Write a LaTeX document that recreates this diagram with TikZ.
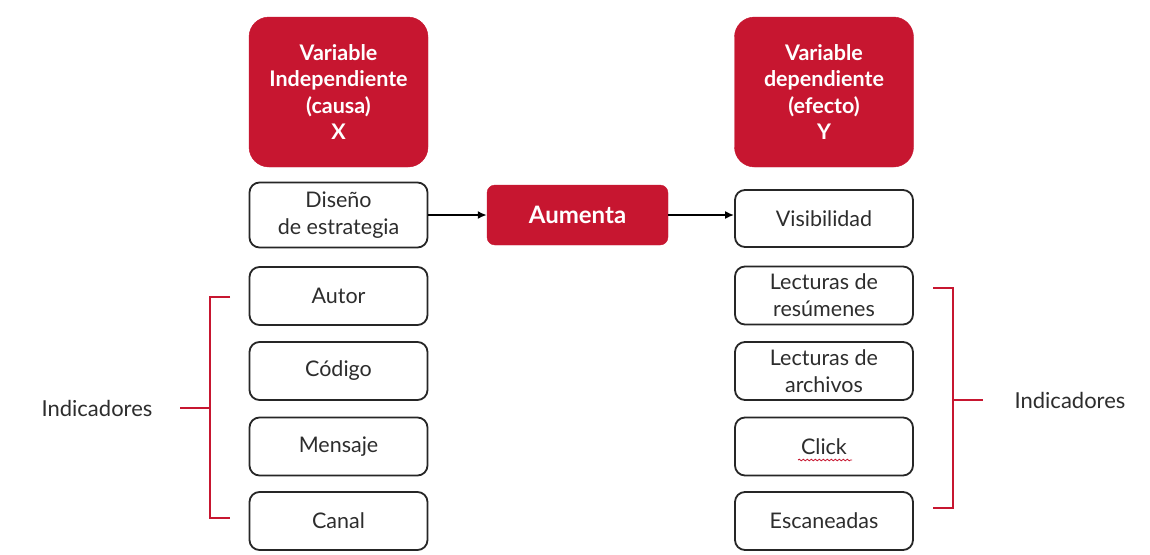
\documentclass[tikz,border=0pt]{standalone}
\usepackage{fontspec}
\setmainfont{Lato}
\usetikzlibrary{arrows.meta,decorations.pathmorphing}
\definecolor{vred}{RGB}{199,22,48}
\definecolor{txt}{RGB}{45,45,45}
\begin{document}
\begin{tikzpicture}[x=1pt,y=-1pt,
  varbox/.style={fill=vred,draw=vred,rounded corners=20pt,minimum width=179pt,minimum height=150pt,
    text=white,align=center,font=\fontsize{21.5}{26.5}\selectfont\bfseries,inner sep=0pt},
  itembox/.style={draw=black!85,line width=1.8pt,rounded corners=10pt,minimum width=178pt,
    text=txt,align=center,font=\fontsize{21.5}{27}\selectfont,inner sep=0pt},
  actbox/.style={fill=vred,draw=vred,rounded corners=8pt,minimum width=181pt,minimum height=60pt,
    text=white,font=\fontsize{24}{26}\selectfont\bfseries,inner sep=0pt},
  conn/.style={line width=1.8pt,draw=black,-{Latex[length=9pt,width=8pt]}},
  brk/.style={line width=1.8pt,draw=vred},
  lbl/.style={text=txt,font=\fontsize{22}{24}\selectfont,inner sep=0pt}]
\useasboundingbox[fill=white] (0,0) rectangle (1150,554);
% left column
\node[varbox] (vx) at (338.5,92) {Variable\\Independiente\\(causa)\\X};
\node[itembox,minimum height=65pt] (dis) at (338.5,215) {Diseño\\de estrategia};
\node[itembox,minimum height=58pt] (aut) at (338.5,296) {Autor};
\node[itembox,minimum height=58pt] (cod) at (338.5,371) {Código};
\node[itembox,minimum height=58pt] (men) at (338.5,446.5) {Mensaje};
\node[itembox,minimum height=58pt] (can) at (338.5,521) {Canal};
% middle
\node[actbox] (aum) at (577.5,215) {Aumenta};
% right column
\node[varbox] (vy) at (824,92) {Variable\\dependiente\\(efecto)\\Y};
\node[itembox,minimum height=57pt] (vis) at (824,218.5) {Visibilidad};
\node[itembox,minimum height=58pt] (lres) at (824,295.5) {Lecturas de\\resúmenes};
\node[itembox,minimum height=58pt] (larc) at (824,371) {Lecturas de\\archivos};
\node[itembox,minimum height=58pt] (cli) at (824,446.5) {Click};
\node[itembox,minimum height=58pt] (esc) at (824,521) {Escaneadas};
% arrows
\draw[conn] (dis.east) -- (aum.west);
\draw[conn] (aum.east) -- (aum.east -| vis.west);
% click underline
\draw[vred,line width=0.8pt,decorate,decoration={snake,amplitude=0.8pt,segment length=4pt}] (798,460) -- (852,460);
% indicator labels and brackets
\node[lbl] (indl) at (97,408) {Indicadores};
\node[lbl] (indr) at (1070,400) {Indicadores};
\coordinate (lt) at (210,297);
\coordinate (lb) at (210,518);
\coordinate (lm) at (210,408);
\draw[brk] ([xshift=20pt]lt) -- (lt) -- (lb) -- ([xshift=20pt]lb);
\draw[brk] (180,408) -- (lm);
\coordinate (rt) at (953,288);
\coordinate (rb) at (953,508);
\coordinate (rm) at (953,400);
\draw[brk] ([xshift=-20pt]rt) -- (rt) -- (rb) -- ([xshift=-20pt]rb);
\draw[brk] (rm) -- (983,400);
\end{tikzpicture}
\end{document}
